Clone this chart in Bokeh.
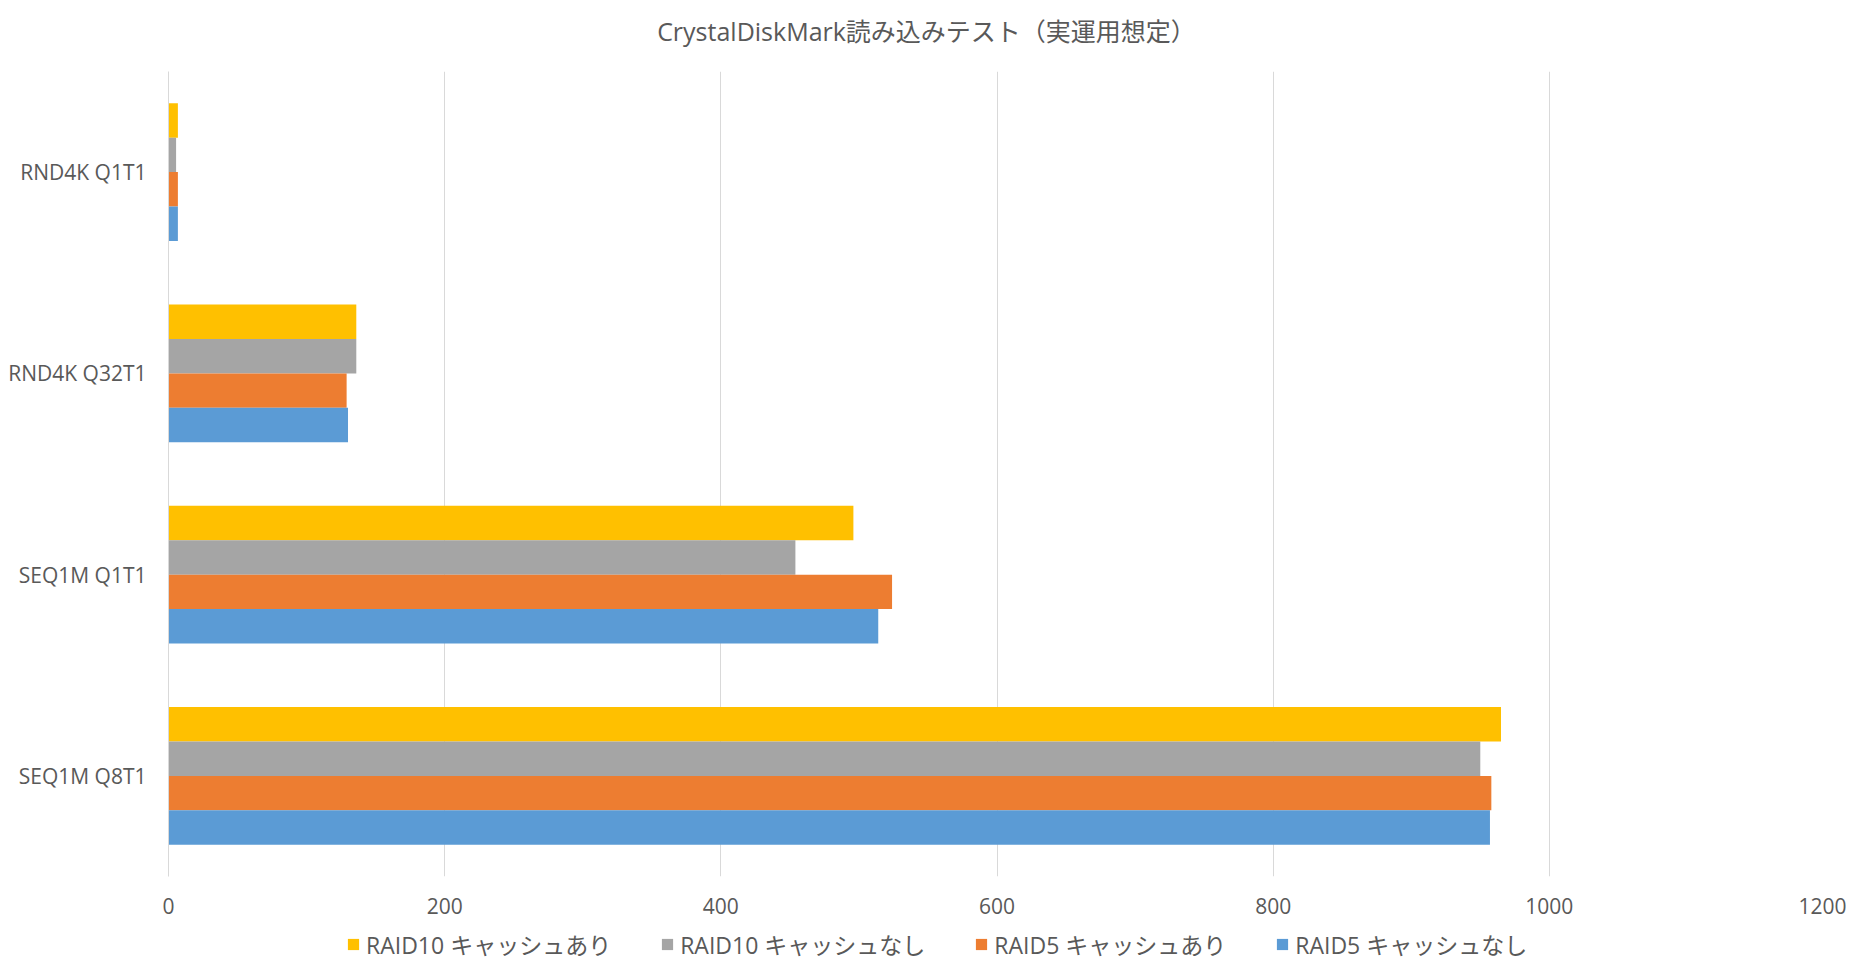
from bokeh.plotting import figure
from bokeh.layouts import column
from bokeh.models import (ColumnDataSource, FactorRange, Range1d, FixedTicker,
                          Legend, LegendItem, Label)
from bokeh.transform import dodge
from bokeh.embed import file_html
from bokeh.resources import INLINE

# ---- data ----
title_text = "CrystalDiskMark読み込みテスト（実運用想定）"
categories = ["RND4K Q1T1", "RND4K Q32T1", "SEQ1M Q1T1", "SEQ1M Q8T1"]  # top to bottom
raid10_cache_on = [6.8, 136, 496, 965]
raid10_cache_off = [5.5, 136, 454, 950]
raid5_cache_on = [6.8, 129, 524, 958]
raid5_cache_off = [6.8, 130, 514, 957]
series_names = ["RAID10 キャッシュあり", "RAID10 キャッシュなし",
                "RAID5 キャッシュあり", "RAID5 キャッシュなし"]
x_ticks = [0, 200, 400, 600, 800, 1000, 1200]

FONT = "'Open Sans', 'Noto Sans CJK JP', sans-serif"
TXT = "#595959"
GRID = "#D9D9D9"
colors = ["#FFC000", "#A5A5A5", "#ED7D31", "#5B9BD5"]
cols = ["r10on", "r10off", "r5on", "r5off"]

src = ColumnDataSource(dict(cat=categories, r10on=raid10_cache_on, r10off=raid10_cache_off,
                            r5on=raid5_cache_on, r5off=raid5_cache_off))

W = 1846
BL, BR = 168, 21

# ---- title strip ----
tf = figure(width=W, height=50, output_backend="svg", toolbar_location=None,
            x_axis_type=None, y_axis_type=None, x_range=Range1d(0, 1), y_range=Range1d(0, 1),
            min_border_left=BL, min_border_right=BR, min_border_top=0, min_border_bottom=0)
tf.outline_line_color = None
tf.grid.visible = False
tf.add_layout(Label(x=758, y=20, x_units="screen", y_units="screen", text=title_text,
                    text_font=FONT, text_font_size="25px", text_color=TXT,
                    text_align="center", text_baseline="middle"))

# ---- main chart ----
p = figure(width=W, height=871, output_backend="svg", toolbar_location=None,
           y_range=FactorRange(factors=list(reversed(categories))),
           x_range=Range1d(0, 1200),
           min_border_left=BL, min_border_right=BR, min_border_top=21, min_border_bottom=45)
p.outline_line_color = None
p.background_fill_color = "white"
p.border_fill_color = "white"

bw = 0.1712
offsets = [1.5 * bw, 0.5 * bw, -0.5 * bw, -1.5 * bw]
for c, off, col in zip(cols, offsets, colors):
    p.hbar(y=dodge("cat", off, range=p.y_range), right=c, left=0, height=bw,
           source=src, fill_color=col, line_color=None)

p.xaxis.ticker = FixedTicker(ticks=x_ticks)
p.xaxis.axis_line_color = None
p.xaxis.major_tick_line_color = None
p.xaxis.minor_tick_line_color = None
p.xaxis.major_label_text_font = FONT
p.xaxis.major_label_text_font_size = "21px"
p.xaxis.major_label_text_color = TXT
p.xaxis.major_label_standoff = 15

p.yaxis.axis_line_color = GRID
p.yaxis.major_tick_line_color = None
p.yaxis.minor_tick_line_color = None
p.yaxis.major_label_text_font = FONT
p.yaxis.major_label_text_font_size = "21px"
p.yaxis.major_label_text_color = TXT
p.yaxis.major_label_standoff = 16

p.xgrid.grid_line_color = GRID
p.xgrid.ticker = FixedTicker(ticks=x_ticks)
p.ygrid.grid_line_color = None

# ---- legend strip ----
lf = figure(width=W, height=40, output_backend="svg", toolbar_location=None,
            x_axis_type=None, y_axis_type=None, x_range=Range1d(2000, 3000),
            y_range=FactorRange(factors=list(reversed(categories))),
            min_border_left=BL, min_border_right=BR, min_border_top=0, min_border_bottom=0)
lf.outline_line_color = None
lf.grid.visible = False
proxies = []
for c, col in zip(cols, colors):
    proxies.append(lf.hbar(y="cat", right=c, left=0, height=0, source=src,
                           fill_color=col, line_color=None))

legend = Legend(items=[LegendItem(label=n, renderers=[r]) for n, r in zip(series_names, proxies)],
                orientation="horizontal", location=(178, 0),
                glyph_width=14, glyph_height=14, label_standoff=6, spacing=49,
                padding=0, margin=0, border_line_color=None, background_fill_alpha=0,
                label_text_font=FONT, label_text_font_size="23px", label_text_color=TXT)
lf.add_layout(legend, "center")

layout = column(tf, p, lf, spacing=0)
open("out.html", "w").write(file_html(layout, INLINE))
